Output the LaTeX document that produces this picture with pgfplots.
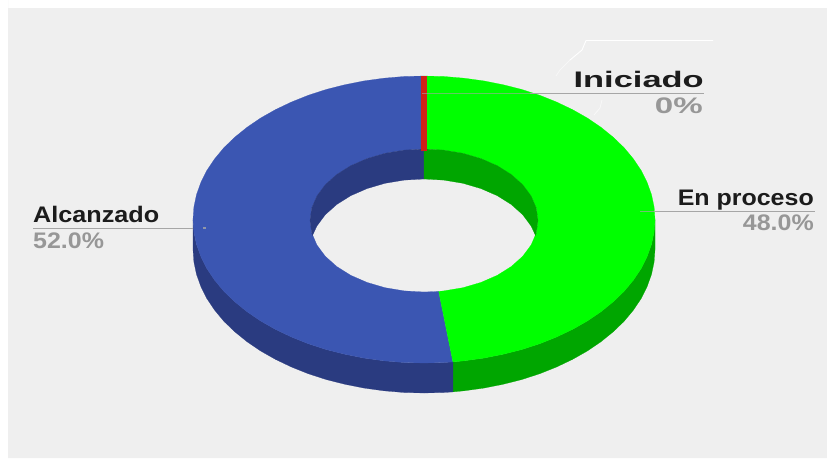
\documentclass[border=0pt]{standalone}
\usepackage{pgfplots}
\pgfplotsset{compat=1.18}
\usepackage{fontspec}
\setmainfont{Liberation Sans}
\definecolor{bg}{HTML}{EFEFEF}
\definecolor{blueTop}{HTML}{3B56B2}
\definecolor{blueWall}{HTML}{2A3B80}
\definecolor{greenTop}{HTML}{00FF00}
\definecolor{greenWall}{HTML}{00A600}
\definecolor{redTop}{HTML}{D02018}
\definecolor{leader}{HTML}{A6A6A6}
\definecolor{pct}{HTML}{979797}
\definecolor{lab}{HTML}{1C1C1C}
\newcommand{\lbl}{\fontsize{22.5}{22.5}\selectfont\bfseries}
\begin{document}
\begin{tikzpicture}
\begin{axis}[
  scale only axis, width=827pt, height=458pt,
  xmin=0, xmax=827, ymin=0, ymax=458, y dir=reverse,
  hide axis, clip=true
]
% page background
\addplot[fill=white, draw=none] coordinates {(0,0) (827,0) (827,458) (0,458)} \closedcycle;
\addplot[fill=bg, draw=none] coordinates {(8,8) (827,8) (827,458) (8,458)} \closedcycle;

% faint white artefacts by the Iniciado label
\addplot[white, line width=0.9pt] coordinates {(713,40.5) (586,40.5) (582,50) (570,60)};
\addplot[white, opacity=0.5, line width=0.8pt] coordinates {(570,60) (560,70) (556,76)};
\addplot[white, opacity=0.6, line width=0.8pt] coordinates {(602,100) (600,108) (594,115)};

% outer wall, green
\addplot[fill=greenWall, draw=greenWall, line width=0.2pt] coordinates {
(655.0,219.5) (654.1,232.0) (651.5,244.4) (647.1,256.6) (641.1,268.6) (633.4,280.1) (624.1,291.3) (613.2,301.8)
(601.0,311.7) (587.3,321.0) (572.5,329.4) (556.5,337.0) (539.5,343.8) (521.6,349.6) (503.0,354.3) (483.8,358.1)
(464.1,360.8) (452.9,361.9)
(452.9,391.9) (464.1,390.8) (483.8,388.1) (503.0,384.3) (521.6,379.6) (539.5,373.8) (556.5,367.0) (572.5,359.4)
(587.3,351.0) (601.0,341.7) (613.2,331.8) (624.1,321.3) (633.4,310.1) (641.1,298.6) (647.1,286.6) (651.5,274.4)
(654.1,262.0) (655.0,249.5)} -- cycle;
% outer wall, blue
\addplot[fill=blueWall, draw=blueWall, line width=0.2pt] coordinates {
(452.9,361.9) (444.1,362.5) (424,363.0) (403.9,362.5) (383.9,360.8) (364.2,358.1) (345.0,354.3) (326.4,349.6)
(308.5,343.8) (291.5,337.0) (275.5,329.4) (260.7,321.0) (247.0,311.7) (234.8,301.8) (223.9,291.3) (214.6,280.1)
(206.9,268.6) (200.9,256.6) (196.5,244.4) (193.9,232.0) (193.0,219.5)
(193.0,249.5) (193.9,262.0) (196.5,274.4) (200.9,286.6) (206.9,298.6) (214.6,310.1) (223.9,321.3) (234.8,331.8)
(247.0,341.7) (260.7,351.0) (275.5,359.4) (291.5,367.0) (308.5,373.8) (326.4,379.6) (345.0,384.3) (364.2,388.1)
(383.9,390.8) (403.9,392.5) (424,393.0) (444.1,392.5) (452.9,391.9)} -- cycle;

% top face, Alcanzado 52.0
\addplot[fill=blueTop, draw=blueTop, line width=0.2pt] coordinates {
(452.9,361.9) (444.1,362.5) (424,363.0) (403.9,362.5) (383.9,360.8) (364.2,358.1) (345.0,354.3) (326.4,349.6)
(308.5,343.8) (291.5,337.0) (275.5,329.4) (260.7,321.0) (247.0,311.7) (234.8,301.8) (223.9,291.3) (214.6,280.1)
(206.9,268.6) (200.9,256.6) (196.5,244.4) (193.9,232.0) (193.0,219.5)
(193.9,207.0) (196.5,194.6) (200.9,182.4) (206.9,170.4) (214.6,158.9) (223.9,147.7) (234.8,137.2) (247.0,127.3)
(260.7,118.0) (275.5,109.6) (291.5,102.0) (308.5,95.2) (326.4,89.4) (345.0,84.7) (364.2,80.9) (383.9,78.2)
(403.9,76.5) (424,76.0)
(424,149.0) (404.2,150.1) (385.0,153.3) (367.0,158.6) (350.7,165.7) (336.7,174.5) (325.3,184.7) (316.9,196.0)
(311.7,208.1) (310.0,220.5) (311.7,232.9) (316.9,245.0) (325.3,256.3) (336.7,266.5) (350.7,275.3) (367.0,282.4)
(385.0,287.7) (404.2,290.9) (424,292.0) (438.7,291.4)} -- cycle;
% top face, En proceso 48.0
\addplot[fill=greenTop, draw=greenTop, line width=0.2pt] coordinates {
(424,76.0) (444.1,76.5) (464.1,78.2) (483.8,80.9) (503.0,84.7) (521.6,89.4) (539.5,95.2) (556.5,102.0)
(572.5,109.6) (587.3,118.0) (601.0,127.3) (613.2,137.2) (624.1,147.7) (633.4,158.9) (641.1,170.4) (647.1,182.4)
(651.5,194.6) (654.1,207.0) (655.0,219.5)
(654.1,232.0) (651.5,244.4) (647.1,256.6) (641.1,268.6) (633.4,280.1) (624.1,291.3) (613.2,301.8) (601.0,311.7)
(587.3,321.0) (572.5,329.4) (556.5,337.0) (539.5,343.8) (521.6,349.6) (503.0,354.3) (483.8,358.1) (464.1,360.8)
(452.9,361.9)
(438.7,291.4) (443.8,290.9) (463.0,287.7) (481.0,282.4) (497.3,275.3) (511.3,266.5) (522.7,256.3) (531.1,245.0)
(536.3,232.9) (538.0,220.5) (536.3,208.1) (531.1,196.0) (522.7,184.7) (511.3,174.5) (497.3,165.7) (481.0,158.6)
(463.0,153.3) (443.8,150.1) (424,149.0)} -- cycle;

% inner wall
\addplot[fill=blueWall, draw=blueWall, line width=0.2pt] coordinates {
(312.5,235.5) (311.7,232.9) (310.0,220.5) (311.7,208.1) (316.9,196.0) (325.3,184.7) (336.7,174.5) (350.7,165.7)
(367.0,158.6) (385.0,153.3) (404.2,150.1) (424,149.0)
(424,179.0) (404.2,180.1) (385.0,183.3) (367.0,188.6) (350.7,195.7) (336.7,204.5) (325.3,214.7) (316.9,226.0)} -- cycle;
\addplot[fill=greenWall, draw=greenWall, line width=0.2pt] coordinates {
(535.5,235.5) (536.3,232.9) (538.0,220.5) (536.3,208.1) (531.1,196.0) (522.7,184.7) (511.3,174.5) (497.3,165.7)
(481.0,158.6) (463.0,153.3) (443.8,150.1) (424,149.0)
(424,179.0) (443.8,180.1) (463.0,183.3) (481.0,188.6) (497.3,195.7) (511.3,204.5) (522.7,214.7) (531.1,226.0)} -- cycle;

% Iniciado 0, a sliver
\addplot[fill=redTop, draw=none] coordinates {(421.3,75.5) (426.5,75.5) (426.5,151) (421.3,151)} -- cycle;

% leader lines
\addplot[leader, line width=1.6pt] coordinates {(530,93.5) (704,93.5)};
\addplot[leader, opacity=0.6, line width=1.4pt] coordinates {(422,93.5) (530,93.5)};
\addplot[leader, line width=1.6pt] coordinates {(655,211.5) (815,211.5)};
\addplot[leader, opacity=0.7, line width=1.4pt] coordinates {(640,211.5) (655,211.5)};
\addplot[leader, line width=1.6pt] coordinates {(33,228.3) (193,228.3)};
\addplot[leader, opacity=0.8, line width=1.8pt] coordinates {(203,228.3) (206,228.3)};

% labels
\node[anchor=base west, inner sep=0pt, text=lab, xscale=1.12] at (axis cs:33,222.7) {\lbl Alcanzado};
\node[anchor=base west, inner sep=0pt, text=pct, xscale=1.11] at (axis cs:33,248) {\lbl 52.0\%};
\node[anchor=base east, inner sep=0pt, text=lab, xscale=1.11] at (axis cs:814,205) {\lbl En proceso};
\node[anchor=base east, inner sep=0pt, text=pct, xscale=1.11] at (axis cs:814,230.7) {\lbl 48.0\%};
\node[anchor=base east, inner sep=0pt, text=lab, xscale=1.53] at (axis cs:704,87) {\lbl Iniciado};
\node[anchor=base east, inner sep=0pt, text=pct, xscale=1.47] at (axis cs:703,113) {\lbl 0\%};
\end{axis}
\end{tikzpicture}
\end{document}
